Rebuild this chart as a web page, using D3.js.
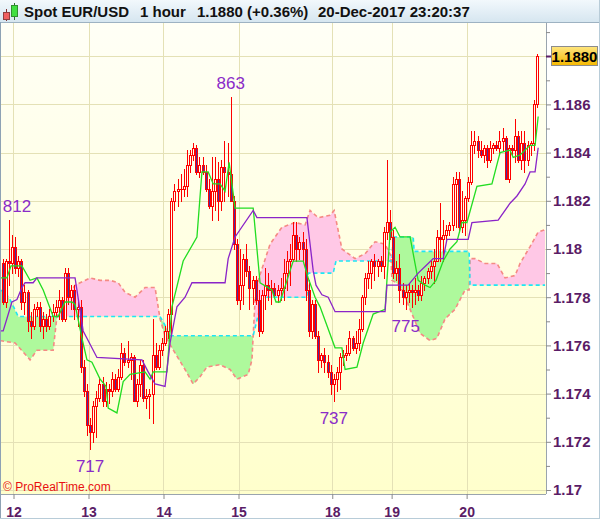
<!DOCTYPE html>
<html lang="en">
<head>
<meta charset="UTF-8">
<title>Spot EUR/USD 1 hour</title>
<script src="https://d3js.org/d3.v7.min.js"></script>
<style>
  body { margin: 0; background: #fff; }
  svg { display: block; font-family: "Liberation Sans", Arial, sans-serif; }
</style>
</head>
<body>
<svg id="chart" width="600" height="519"></svg>
<script>
// hourly candles, Dec 11 20:00 -> Dec 20 23:00
const open = [1.1794,1.1778,1.1795,1.1794,1.1801,1.1792,1.1795,1.1778,1.1782,1.1770,
1.1768,1.1775,1.1776,1.1768,1.1771,1.1768,1.1772,1.1774,1.1776,1.1779,
1.1771,1.1790,1.1780,1.1783,1.1775,1.1776,1.1751,1.1741,1.1727,1.1724,
1.1735,1.1738,1.1744,1.1737,1.1742,1.1741,1.1746,1.1742,1.1747,1.1757,
1.1753,1.1754,1.1755,1.1737,1.1744,1.1752,1.1738,1.1739,1.1740,1.1756,
1.1751,1.1758,1.1761,1.1766,1.1773,1.1820,1.1824,1.1825,1.1825,1.1826,
1.1835,1.1839,1.1842,1.1832,1.1835,1.1832,1.1825,1.1818,1.1824,1.1829,
1.1820,1.1834,1.1832,1.1831,1.1820,1.1802,1.1779,1.1785,1.1796,1.1791,
1.1784,1.1787,1.1779,1.1766,1.1781,1.1785,1.1783,1.1784,1.1781,1.1783,
1.1784,1.1790,1.1795,1.1796,1.1806,1.1800,1.1803,1.1800,1.1783,1.1766,
1.1777,1.1764,1.1754,1.1756,1.1753,1.1749,1.1744,1.1746,1.1749,1.1755,
1.1756,1.1757,1.1763,1.1759,1.1761,1.1767,1.1780,1.1788,1.1790,1.1795,
1.1793,1.1795,1.1793,1.1807,1.1811,1.1805,1.1790,1.1792,1.1783,1.1780,
1.1782,1.1783,1.1782,1.1783,1.1781,1.1786,1.1788,1.1791,1.1793,1.1795,
1.1805,1.1804,1.1806,1.1808,1.1810,1.1827,1.1829,1.1809,1.1812,1.1821,
1.1828,1.1843,1.1845,1.1841,1.1839,1.1842,1.1837,1.1842,1.1843,1.1842,
1.1845,1.1846,1.1829,1.1842,1.1841,1.1847,1.1837,1.1844,1.1837,1.1843,
1.1844,1.1860];

const high = [1.1796,1.1796,1.1812,1.1806,1.1805,1.1797,1.1796,1.1785,1.1783,1.1774,
1.1777,1.1778,1.1778,1.1774,1.1773,1.1775,1.1777,1.1779,1.1783,1.1780,
1.1792,1.1792,1.1785,1.1785,1.1779,1.1779,1.1754,1.1744,1.1730,1.1737,
1.1741,1.1747,1.1747,1.1745,1.1744,1.1749,1.1748,1.1750,1.1761,1.1759,
1.1762,1.1757,1.1756,1.1746,1.1754,1.1754,1.1742,1.1742,1.1771,1.1761,
1.1760,1.1763,1.1768,1.1775,1.1821,1.1827,1.1829,1.1831,1.1833,1.1841,
1.1841,1.1844,1.1843,1.1838,1.1838,1.1835,1.1829,1.1838,1.1838,1.1836,
1.1837,1.1845,1.1844,1.1863,1.1822,1.1804,1.1800,1.1798,1.1802,1.1793,
1.1789,1.1789,1.1783,1.1783,1.1792,1.1790,1.1787,1.1786,1.1785,1.1788,
1.1796,1.1799,1.1802,1.1811,1.1811,1.1805,1.1807,1.1804,1.1787,1.1779,
1.1779,1.1766,1.1757,1.1759,1.1756,1.1752,1.1748,1.1751,1.1757,1.1758,
1.1760,1.1766,1.1764,1.1766,1.1771,1.1781,1.1790,1.1795,1.1796,1.1798,
1.1796,1.1797,1.1809,1.1837,1.1816,1.1808,1.1795,1.1798,1.1786,1.1785,
1.1786,1.1785,1.1788,1.1785,1.1789,1.1789,1.1792,1.1795,1.1800,1.1808,
1.1819,1.1812,1.1810,1.1811,1.1830,1.1832,1.1832,1.1824,1.1822,1.1830,
1.1849,1.1849,1.1847,1.1845,1.1843,1.1843,1.1845,1.1844,1.1845,1.1849,
1.1850,1.1847,1.1843,1.1843,1.1854,1.1849,1.1849,1.1849,1.1845,1.1845,
1.1862,1.1881];

const low = [1.1777,1.1776,1.1785,1.1790,1.1790,1.1789,1.1775,1.1773,1.1766,1.1763,
1.1767,1.1772,1.1766,1.1763,1.1766,1.1767,1.1770,1.1772,1.1771,1.1770,
1.1770,1.1777,1.1775,1.1771,1.1768,1.1749,1.1739,1.1723,1.1717,1.1720,
1.1722,1.1737,1.1735,1.1735,1.1736,1.1739,1.1741,1.1741,1.1746,1.1752,
1.1751,1.1746,1.1737,1.1735,1.1739,1.1737,1.1734,1.1730,1.1728,1.1750,
1.1750,1.1756,1.1760,1.1763,1.1764,1.1816,1.1818,1.1820,1.1822,1.1822,
1.1832,1.1837,1.1831,1.1830,1.1831,1.1824,1.1817,1.1812,1.1816,1.1812,
1.1816,1.1820,1.1822,1.1820,1.1800,1.1777,1.1775,1.1777,1.1789,1.1775,
1.1777,1.1777,1.1764,1.1765,1.1775,1.1779,1.1777,1.1780,1.1778,1.1779,
1.1779,1.1783,1.1785,1.1795,1.1795,1.1796,1.1795,1.1779,1.1764,1.1763,
1.1763,1.1749,1.1751,1.1749,1.1747,1.1740,1.1737,1.1741,1.1742,1.1752,
1.1754,1.1756,1.1758,1.1757,1.1758,1.1766,1.1777,1.1784,1.1784,1.1787,
1.1789,1.1791,1.1788,1.1804,1.1804,1.1788,1.1787,1.1778,1.1777,1.1775,
1.1778,1.1776,1.1777,1.1779,1.1779,1.1783,1.1786,1.1788,1.1786,1.1795,
1.1795,1.1795,1.1804,1.1806,1.1808,1.1809,1.1807,1.1807,1.1806,1.1820,
1.1827,1.1840,1.1838,1.1838,1.1836,1.1834,1.1836,1.1840,1.1841,1.1840,
1.1841,1.1829,1.1828,1.1839,1.1836,1.1836,1.1833,1.1832,1.1835,1.1839,
1.1841,1.1859];

const close = [1.1778,1.1795,1.1794,1.1801,1.1792,1.1795,1.1778,1.1782,1.1770,1.1768,
1.1775,1.1776,1.1768,1.1771,1.1768,1.1772,1.1774,1.1776,1.1779,1.1771,
1.1790,1.1780,1.1783,1.1775,1.1776,1.1751,1.1741,1.1727,1.1724,1.1735,
1.1738,1.1744,1.1737,1.1742,1.1741,1.1746,1.1742,1.1747,1.1757,1.1753,
1.1754,1.1755,1.1737,1.1744,1.1752,1.1738,1.1739,1.1740,1.1756,1.1751,
1.1758,1.1761,1.1766,1.1773,1.1820,1.1824,1.1825,1.1825,1.1826,1.1835,
1.1839,1.1842,1.1832,1.1835,1.1832,1.1825,1.1818,1.1824,1.1829,1.1820,
1.1834,1.1832,1.1831,1.1820,1.1802,1.1779,1.1785,1.1796,1.1791,1.1784,
1.1787,1.1779,1.1766,1.1781,1.1785,1.1783,1.1784,1.1781,1.1783,1.1784,
1.1790,1.1795,1.1796,1.1806,1.1800,1.1803,1.1800,1.1783,1.1766,1.1777,
1.1764,1.1754,1.1756,1.1753,1.1749,1.1744,1.1746,1.1749,1.1755,1.1756,
1.1757,1.1763,1.1759,1.1761,1.1767,1.1780,1.1788,1.1790,1.1795,1.1793,
1.1795,1.1793,1.1807,1.1811,1.1805,1.1790,1.1792,1.1783,1.1780,1.1782,
1.1783,1.1782,1.1783,1.1781,1.1786,1.1788,1.1791,1.1793,1.1795,1.1805,
1.1804,1.1806,1.1808,1.1810,1.1827,1.1829,1.1809,1.1812,1.1821,1.1828,
1.1843,1.1845,1.1841,1.1839,1.1842,1.1837,1.1842,1.1843,1.1842,1.1845,
1.1846,1.1829,1.1842,1.1841,1.1847,1.1837,1.1844,1.1837,1.1843,1.1844,
1.1860,1.1880];

// ichimoku lines as [candle index, price]
const tenkan = [[-0.8,1.1788],[1.4,1.1788],[2.7,1.1793],[6.2,1.1793],[8.8,1.1787],[11,1.1788],[13,1.1783],[16.2,1.1772],[17.8,1.1772],[20,1.1778],[22.2,1.1778],[23.2,1.1777],[25.4,1.1763],[27,1.1754],[28.6,1.1753],[31.2,1.1746],[33.1,1.1743],[33.8,1.1734],[36.6,1.1732],[38.6,1.1745],[40.8,1.1748],[45.6,1.1749],[47.2,1.1746],[48.2,1.1749],[52.6,1.1749],[54.2,1.1776],[57.8,1.1795],[62.2,1.1805],[63.8,1.1832],[65.8,1.1832],[67.4,1.1827],[69.6,1.1827],[71.2,1.1824],[72.5,1.1836],[74.4,1.1817],[80.2,1.1817],[82.4,1.1786],[86.2,1.1783],[87.5,1.1778],[88.8,1.1778],[93,1.1795],[96.2,1.1795],[97.8,1.1788],[100,1.1780],[101.6,1.1776],[106.4,1.1759],[108.6,1.1759],[109.6,1.1750],[113.4,1.1751],[115.4,1.1761],[118.6,1.1773],[122.4,1.1775],[124,1.1807],[125.6,1.1809],[127.2,1.1805],[130.4,1.1805],[133,1.1787],[135.2,1.1785],[136.8,1.1784],[138.7,1.1787],[141,1.1795],[143.2,1.1800],[145.4,1.1803],[147,1.1811],[148.6,1.1811],[151.8,1.1826],[156.6,1.1827],[159.2,1.1840],[162.4,1.1841],[163.4,1.1838],[165.6,1.1839],[168.8,1.1843],[170.4,1.1843],[171.4,1.1855]];

const kijun = [[-0.8,1.1766],[0.2,1.1766],[3,1.1778],[4.6,1.1779],[6.2,1.1784],[7.2,1.1786],[9.8,1.1786],[11,1.1788],[23.2,1.1788],[25.8,1.1766],[30.2,1.1755],[44.6,1.1754],[46.6,1.1749],[48.8,1.1744],[52,1.1743],[53.6,1.1761],[55.8,1.1776],[58.4,1.1780],[60.6,1.1786],[71.2,1.1786],[72.2,1.1796],[74.4,1.1805],[80.2,1.1816],[81.4,1.1813],[97.4,1.1813],[99.4,1.1791],[100.3,1.1785],[102.2,1.1781],[104.2,1.1780],[106.4,1.1774],[122.4,1.1774],[123,1.1785],[129.8,1.1785],[133,1.1790],[136.2,1.1794],[137.8,1.1796],[141,1.1796],[142.2,1.1804],[149,1.1804],[150.2,1.1811],[158.6,1.1812],[162.4,1.1819],[164.6,1.1822],[167.2,1.1827],[168.8,1.1832],[170.4,1.1832],[171.4,1.1842]];

const spanA = [[-0.8,1.1762],[4,1.1761],[8.8,1.1754],[11,1.1758],[16.2,1.1758],[17.4,1.1772],[20,1.1779],[23.2,1.1785],[28,1.1788],[31.2,1.1787],[34.4,1.1787],[37,1.1786],[39.2,1.1782],[42.4,1.1780],[45.6,1.1784],[48.8,1.1784],[50.4,1.1771],[52,1.1764],[54.2,1.1759],[58.4,1.1750],[61,1.1744],[63.2,1.1747],[65.4,1.1751],[69.6,1.1752],[72.8,1.1750],[75,1.1746],[78.6,1.1748],[79.8,1.1754],[80.8,1.1779],[81.8,1.1787],[85.6,1.1802],[89.4,1.1809],[93.6,1.1811],[96.8,1.1810],[98.4,1.1816],[101,1.1813],[104.8,1.1814],[106.1,1.1816],[108.6,1.1800],[112.8,1.1796],[116,1.1798],[119.2,1.1803],[122.4,1.1802],[124.3,1.1797],[124.6,1.1787],[127.2,1.1785],[130.4,1.1775],[133.6,1.1765],[136.8,1.1762],[139,1.1763],[141.6,1.1771],[144.8,1.1775],[148,1.1783],[149.3,1.1783],[149.6,1.1796],[151.2,1.1796],[154.4,1.1794],[158.2,1.1794],[160.8,1.1788],[164,1.1789],[165.6,1.1794],[168.8,1.1801],[171.4,1.1807],[173.6,1.1808]];

const spanB = [[-0.8,1.1783],[0.8,1.1782],[2.4,1.1779],[5,1.1772],[50.4,1.1772],[53.9,1.1764],[80.2,1.1764],[83,1.1779],[83.7,1.1780],[97.4,1.1780],[97.8,1.1790],[105.8,1.1790],[106.7,1.1795],[124.6,1.1795],[125,1.1805],[131.4,1.1805],[131.7,1.1799],[149.3,1.1799],[149.6,1.1785],[173.6,1.1785]];

const dayTicks = [4, 28, 52, 76, 106, 125, 149];
const dayLabels = ["12", "13", "14", "15", "18", "19", "20"];
const priceTicks = [1.17, 1.172, 1.174, 1.176, 1.178, 1.18, 1.182, 1.184, 1.186];
const gridPrices = [1.17, 1.172, 1.174, 1.176, 1.178, 1.18, 1.182, 1.184, 1.186, 1.188];
const minorTicks = [1.171, 1.173, 1.175, 1.177, 1.179, 1.181, 1.183, 1.185, 1.187, 1.189];

// marked extremes: candle index, price, which side
const extremes = [
  { i: 2, v: 1.1812, side: "high" },
  { i: 73, v: 1.1863, side: "high" },
  { i: 28, v: 1.1717, side: "low" },
  { i: 106, v: 1.1737, side: "low" },
  { i: 129, v: 1.1775, side: "low" }
];

const svg = d3.select("#chart");
const plotL = 1, plotR = 546, plotT = 23, plotB = 494;

const x = d3.scaleLinear().domain([0, 174.4]).range([plotL, plotR]);
const y = d3.scaleLinear().domain([1.17, 1.188]).range([490, 56.2]);
const cx = i => x(i + 0.5);

const defs = svg.append("defs");
const bgGrad = defs.append("linearGradient").attr("id", "bg").attr("x1", 0).attr("y1", 0).attr("x2", 0).attr("y2", 1);
bgGrad.append("stop").attr("offset", "0%").attr("stop-color", "#fffff6");
bgGrad.append("stop").attr("offset", "100%").attr("stop-color", "#ffffcc");
const titleGrad = defs.append("linearGradient").attr("id", "tb").attr("x1", 0).attr("y1", 0).attr("x2", 0).attr("y2", 1);
titleGrad.append("stop").attr("offset", "0%").attr("stop-color", "#f2f8fc");
titleGrad.append("stop").attr("offset", "100%").attr("stop-color", "#d6e6f0");
const goldGrad = defs.append("linearGradient").attr("id", "gold").attr("x1", 0).attr("y1", 0).attr("x2", 0).attr("y2", 1);
goldGrad.append("stop").attr("offset", "0%").attr("stop-color", "#ffe680");
goldGrad.append("stop").attr("offset", "100%").attr("stop-color", "#f5b800");

defs.append("clipPath").attr("id", "plotClip")
  .append("rect").attr("x", plotL).attr("y", plotT).attr("width", plotR - plotL).attr("height", plotB - plotT);

// cloud clip regions: above span B -> pink, below span B -> green
const bPts = spanB.map(d => [cx(d[0]), y(d[1])]);
const aPts = spanA.map(d => [cx(d[0]), y(d[1])]);
const bFirst = bPts[0][0], bLast = bPts[bPts.length - 1][0];
defs.append("clipPath").attr("id", "aboveB").append("path")
  .attr("d", d3.line()(bPts.concat([[bLast, 0], [bFirst, 0]])) + "Z");
defs.append("clipPath").attr("id", "belowB").append("path")
  .attr("d", d3.line()(bPts.concat([[bLast, 600], [bFirst, 600]])) + "Z");

// backgrounds
svg.append("rect").attr("width", 600).attr("height", 519).attr("fill", "#ffffff");
svg.append("rect").attr("x", plotL).attr("y", plotT).attr("width", plotR - plotL).attr("height", plotB - plotT).attr("fill", "url(#bg)");

const plot = svg.append("g").attr("clip-path", "url(#plotClip)");

// grid
plot.append("g").selectAll("line").data(gridPrices).join("line")
  .attr("x1", plotL).attr("x2", plotR)
  .attr("y1", d => Math.round(y(d)) + 0.5).attr("y2", d => Math.round(y(d)) + 0.5)
  .attr("stroke", "#e4e1b6").attr("stroke-width", 1);
plot.append("g").selectAll("line").data(dayTicks).join("line")
  .attr("x1", d => Math.round(x(d)) + 0.5).attr("x2", d => Math.round(x(d)) + 0.5)
  .attr("y1", plotT).attr("y2", plotB)
  .attr("stroke", "#e4e1b6").attr("stroke-width", 1);

// cloud
const cloudPath = d3.line()(aPts.concat(bPts.slice().reverse())) + "Z";
plot.append("g").attr("clip-path", "url(#aboveB)").append("path").attr("d", cloudPath).attr("fill", "#ffc8e6");
plot.append("g").attr("clip-path", "url(#belowB)").append("path").attr("d", cloudPath).attr("fill", "#aef99c");

const lineGen = d3.line().x(d => cx(d[0])).y(d => y(d[1]));
plot.append("path").attr("d", lineGen(spanA)).attr("fill", "none")
  .attr("stroke", "#f58a84").attr("stroke-width", 1.6).attr("stroke-dasharray", "4,3");
plot.append("path").attr("d", lineGen(spanB)).attr("fill", "none")
  .attr("stroke", "#1ee6f4").attr("stroke-width", 1.6).attr("stroke-dasharray", "4,3");

// candles
const idx = d3.range(close.length);
const cg = plot.append("g").selectAll("g").data(idx).join("g");
cg.append("line")
  .attr("x1", i => Math.round(cx(i)) + 0.5).attr("x2", i => Math.round(cx(i)) + 0.5)
  .attr("y1", i => Math.round(y(high[i]))).attr("y2", i => Math.round(y(low[i])) + 1)
  .attr("stroke", "#ff0000").attr("stroke-width", 1);
cg.append("rect")
  .attr("x", i => Math.round(cx(i)) - 1)
  .attr("y", i => Math.round(y(Math.max(open[i], close[i]))))
  .attr("width", 3)
  .attr("height", i => Math.max(1, Math.round(y(Math.min(open[i], close[i]))) - Math.round(y(Math.max(open[i], close[i]))) + 1))
  .attr("fill", "#ff0000");
cg.filter(i => Math.round(y(Math.min(open[i], close[i]))) - Math.round(y(Math.max(open[i], close[i]))) > 1)
  .append("rect")
  .attr("x", i => Math.round(cx(i)))
  .attr("y", i => Math.round(y(Math.max(open[i], close[i]))) + 1)
  .attr("width", 1)
  .attr("height", i => Math.round(y(Math.min(open[i], close[i]))) - Math.round(y(Math.max(open[i], close[i]))) - 1)
  .attr("fill", i => close[i] >= open[i] ? "#fffff0" : "#4c2c9e");

// tenkan / kijun
plot.append("path").attr("d", lineGen(tenkan)).attr("fill", "none")
  .attr("stroke", "#22dd22").attr("stroke-width", 1.3);
plot.append("path").attr("d", lineGen(kijun)).attr("fill", "none")
  .attr("stroke", "#8a24c8").attr("stroke-width", 1.3);

// extreme labels (kept inside the left edge)
plot.append("g").selectAll("text").data(extremes).join("text")
  .attr("x", d => Math.max(cx(d.i), 17))
  .attr("y", d => d.side === "high" ? y(d.v) - 8 : y(d.v) + 23)
  .attr("text-anchor", "middle")
  .attr("font-size", 17)
  .attr("fill", "#8a2cc8")
  .text(d => String(Math.round(d.v * 10000) % 1000));

// copyright
svg.append("text").attr("x", 3).attr("y", 491)
  .attr("font-size", 12).attr("fill", "#e81010")
  .text("\u00a9 ProRealTime.com");

// plot border
svg.append("line").attr("x1", plotR + 0.5).attr("x2", plotR + 0.5).attr("y1", plotT).attr("y2", plotB)
  .attr("stroke", "#9aa4ae");
svg.append("line").attr("x1", plotL).attr("x2", plotR).attr("y1", plotB + 0.5).attr("y2", plotB + 0.5)
  .attr("stroke", "#9aa4ae");

// right price axis
const axisColor = "#5a1c66";
const yMinor = svg.append("g").attr("transform", `translate(${plotR},0)`)
  .call(d3.axisRight(y).tickValues(minorTicks).tickSize(4).tickFormat(""));
yMinor.select(".domain").remove();
yMinor.selectAll("line").attr("stroke", "#8a8a8a");

const yAxis = svg.append("g").attr("transform", `translate(${plotR},0)`)
  .call(d3.axisRight(y).tickValues(priceTicks).tickSize(5).tickPadding(2)
    .tickFormat(d => String(+d.toFixed(3))));
yAxis.select(".domain").remove();
yAxis.selectAll("line").attr("stroke", "#8a8a8a");
yAxis.selectAll("text").attr("font-size", 15).attr("font-weight", "bold")
  .attr("font-family", "Liberation Sans, Arial, sans-serif").attr("fill", axisColor);

// bottom day axis
const xAxis = svg.append("g").attr("transform", `translate(0,${plotB})`)
  .call(d3.axisBottom(x).tickValues(dayTicks).tickSize(5).tickPadding(8)
    .tickFormat((d, k) => dayLabels[k]));
xAxis.select(".domain").remove();
xAxis.selectAll("line").attr("stroke", "#8a8a8a");
xAxis.selectAll("text").attr("font-size", 14).attr("font-weight", "bold")
  .attr("font-family", "Liberation Sans, Arial, sans-serif").attr("fill", axisColor);

// last price box
const last = close[close.length - 1];
svg.append("line").attr("x1", plotR).attr("x2", plotR + 6)
  .attr("y1", Math.round(y(last)) + 0.5).attr("y2", Math.round(y(last)) + 0.5)
  .attr("stroke", axisColor).attr("stroke-width", 2);
svg.append("rect").attr("x", 551.5).attr("y", Math.round(y(last)) - 9.5)
  .attr("width", 46).attr("height", 19)
  .attr("fill", "url(#gold)").attr("stroke", "#8c8c8c");
svg.append("text").attr("x", 574.5).attr("y", Math.round(y(last)) + 5.5)
  .attr("text-anchor", "middle").attr("font-size", 15).attr("font-weight", "bold")
  .attr("fill", "#000").text(last.toFixed(4));

// title bar
svg.append("rect").attr("x", 0).attr("y", 0).attr("width", 600).attr("height", 22).attr("fill", "url(#tb)");
svg.append("line").attr("x1", 0).attr("x2", 600).attr("y1", 22.5).attr("y2", 22.5).attr("stroke", "#9db2c2");
const icon = svg.append("g");
icon.append("line").attr("x1", 6.5).attr("x2", 6.5).attr("y1", 9).attr("y2", 21).attr("stroke", "#803030");
icon.append("rect").attr("x", 3.5).attr("y", 12.5).attr("width", 6).attr("height", 7)
  .attr("fill", "#f06060").attr("stroke", "#904040");
icon.append("line").attr("x1", 14.5).attr("x2", 14.5).attr("y1", 3).attr("y2", 20).attr("stroke", "#307030");
icon.append("rect").attr("x", 11.5).attr("y", 5.5).attr("width", 6).attr("height", 11)
  .attr("fill", "#40e040").attr("stroke", "#309030");

const titleParts = [
  { x: 24, t: "Spot EUR/USD" },
  { x: 140, t: "1 hour" },
  { x: 197, t: "1.1880 (+0.36%)" },
  { x: 318, t: "20-Dec-2017 23:20:37" }
];
svg.append("g").selectAll("text").data(titleParts).join("text")
  .attr("x", d => d.x).attr("y", 17)
  .attr("font-size", 15).attr("font-weight", "bold").attr("fill", "#111")
  .text(d => d.t);

// outer frame
svg.append("line").attr("x1", 0.5).attr("x2", 0.5).attr("y1", 22).attr("y2", 519).attr("stroke", "#8ea2b4");
svg.append("line").attr("x1", 0).attr("x2", 600).attr("y1", 518.5).attr("y2", 518.5).attr("stroke", "#b8ccd8");
svg.append("line").attr("x1", 599.5).attr("x2", 599.5).attr("y1", 0).attr("y2", 519).attr("stroke", "#b8ccd8");
</script>
</body>
</html>
